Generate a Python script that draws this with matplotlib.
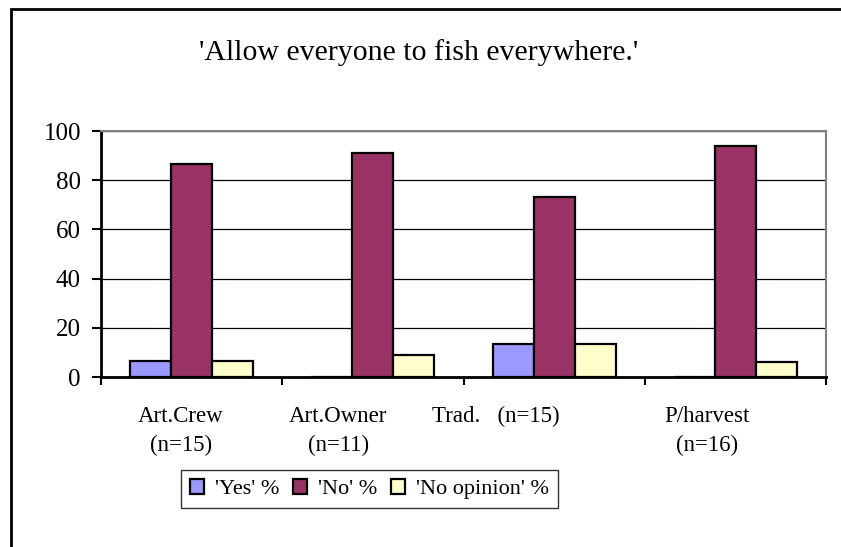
import matplotlib
matplotlib.use("Agg")
import matplotlib.pyplot as plt
from matplotlib.patches import Rectangle
import numpy as np

plt.rcParams['font.family'] = ['Liberation Serif', 'DejaVu Serif']

categories = ["Art.Crew\n(n=15)", "Art.Owner\n(n=11)", "Trad.   (n=15)", "P/harvest\n(n=16)"]
yes_pct = [6.7, 0.0, 13.3, 0.0]
no_pct = [86.7, 90.9, 73.3, 93.8]
no_opinion_pct = [6.7, 9.1, 13.3, 6.3]
series_names = ["'Yes' %", "'No' %", "'No opinion' %"]
colors = ["#9999ff", "#993366", "#ffffcc"]
yticks = [0, 20, 40, 60, 80, 100]
# horizontal nudge of each category label (in slot widths)
label_shift = [-0.06, -0.19, -0.32, -0.155]

fig = plt.figure(figsize=(8.41, 5.47), dpi=100)
W, H = 841, 547

# outer chart frame
fig.patches.append(Rectangle((10.5 / W, -0.1), 1.2, 1.1 - 8.5 / H,
                             transform=fig.transFigure, fill=False,
                             edgecolor="black", linewidth=2.0))

ax = fig.add_axes([101 / W, 1 - 377 / H, (826 - 101) / W, (377 - 131) / H])

x = np.arange(len(categories))
bw = 0.2265
for i, (vals, name, c) in enumerate(zip([yes_pct, no_pct, no_opinion_pct], series_names, colors)):
    ax.bar(x + (i - 1) * bw, vals, width=bw, color=c, edgecolor="black",
           linewidth=1.6, label=name, zorder=3)

ax.set_xlim(-0.5, len(categories) - 0.5)
ax.set_ylim(0, 100)
ax.set_yticks(yticks)
ax.set_yticklabels([str(v) for v in yticks], fontsize=18)
ax.yaxis.grid(True, color="black", linewidth=0.9, zorder=0)
ax.set_axisbelow(True)

# category labels in each slot, ticks at slot boundaries
ax.set_xticks(np.arange(-0.5, len(categories), 1.0))
ax.set_xticklabels([])
ax.set_xticks(x + np.array(label_shift), minor=True)
ax.set_xticklabels(categories, minor=True, fontsize=16.5, linespacing=1.45)
ax.tick_params(axis="x", which="minor", length=0, pad=21)
ax.tick_params(axis="x", which="major", length=6, width=1.5, direction="out")
ax.tick_params(axis="y", length=6.5, width=1.5, direction="out", pad=8)

for s in ["left", "bottom"]:
    ax.spines[s].set_linewidth(2.0)
    ax.spines[s].set_color("black")
for s in ["top", "right"]:
    ax.spines[s].set_linewidth(1.5)
    ax.spines[s].set_color("#808080")

fig.text(419 / W, 1 - 60 / H, "'Allow everyone to fish everywhere.'",
         ha="center", va="baseline", fontsize=21.5)

leg = fig.legend(loc="center", bbox_to_anchor=(369.5 / W, 1 - 489 / H), ncol=3,
                 fontsize=16, frameon=True, fancybox=False, handlelength=0.65,
                 handleheight=0.65, handletextpad=0.5, columnspacing=0.6,
                 borderpad=0.4, borderaxespad=0)
leg.get_frame().set_edgecolor("black")
leg.get_frame().set_linewidth(1.0)
for h in leg.legend_handles:
    h.set_linewidth(1.6)

fig.savefig("out.png", dpi=100)
